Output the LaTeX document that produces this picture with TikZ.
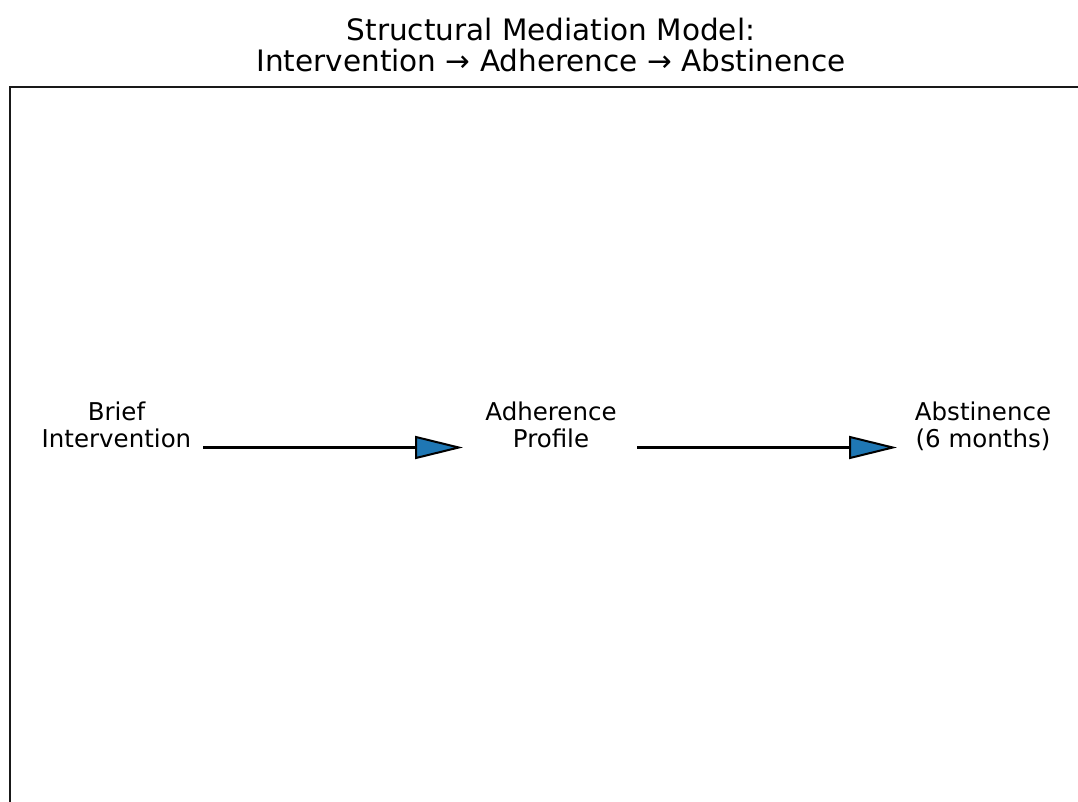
\documentclass[tikz,border=0pt]{standalone}
\usepackage{fontspec}
\setmainfont{DejaVu Sans}
\usetikzlibrary{arrows.meta}
\definecolor{mplblue}{HTML}{1F77B4}
\begin{document}
\begin{tikzpicture}[x=1pt,y=-1pt,
  lbl/.style={align=center,inner sep=0pt,font=\fontsize{24.5}{27}\selectfont},
  ttl/.style={align=center,inner sep=0pt,font=\fontsize{29.5}{31}\selectfont},
  conn/.style={line width=2.7pt,draw=black,-{Triangle[length=48pt,width=23pt,fill=mplblue,line width=2pt]}},
  frameline/.style={line width=2.2pt,draw=black!90}]
\useasboundingbox (0,0) rectangle (1078,802);
% axes frame (partially visible)
\draw[frameline] (1078,87) -- (10,87) -- (10,802);
% title
\node[ttl,anchor=base] (title) at (551,72) {Structural Mediation Model:\\Intervention → Adherence → Abstinence};
% labels
\node[lbl,anchor=base] (bi) at (116.5,447) {Brief\\Intervention};
\node[lbl,anchor=base] (ap) at (551,447) {Adherence\\Profile};
\node[lbl,anchor=base] (ab) at (983,447) {Abstinence\\(6 months)};
% arrow endpoints
\coordinate (a1s) at (203,447.5);
\coordinate (a1e) at (463,447.5);
\coordinate (a2s) at (637,447.5);
\coordinate (a2e) at (897,447.5);
\draw[conn] (a1s) -- (a1e);
\draw[conn] (a2s) -- (a2e);
\end{tikzpicture}
\end{document}
